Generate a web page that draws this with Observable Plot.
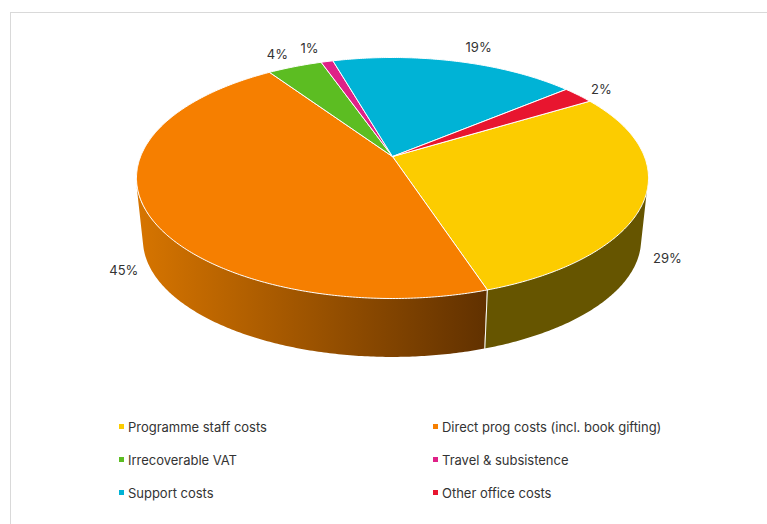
<!DOCTYPE html>
<html>
<head>
<meta charset="utf-8">
<script src="https://cdn.jsdelivr.net/npm/d3@7"></script>
<script src="https://cdn.jsdelivr.net/npm/@observablehq/plot@0.6"></script>
<style>
  html, body { margin: 0; padding: 0; background: #fff; }
  #page { position: relative; width: 767px; height: 524px; overflow: hidden; font-family: Inter, sans-serif; color: #333; }
  #page::before { content: ""; position: absolute; left: 10px; top: 12px; right: -2px; bottom: -2px; border: 1px solid #d9d9d9; }
  #chart { position: relative; }
  #chart svg { display: block; }
  #legend { position: relative; display: grid; grid-template-columns: 314px auto; grid-auto-rows: 33px; padding-left: 119px; font-size: 13px; letter-spacing: -0.02px; }
  .item { display: flex; align-items: center; }
  .swatch { width: 5px; height: 5px; margin-right: 4px; flex: none; }
</style>
</head>
<body>
<div id="page"><div id="chart"></div><div id="legend"></div></div>
<script>
const categories = ["Programme staff costs", "Direct prog costs (incl. book gifting)", "Irrecoverable VAT", "Travel & subsistence", "Support costs", "Other office costs"];
const values = [28.6, 45.6, 4.1, 0.9, 18.4, 2.4];
const percentLabels = ["29%", "45%", "4%", "1%", "19%", "2%"];
const colors = ["#fccc00", "#f67f00", "#5cbd22", "#df2187", "#00b3d6", "#e8152f"];
const wallFills = ["#665500", "url(#orangeWall)", "#2e5f11", "#701143", "#005a6b", "#740b18"];

const startAngle = 58.8 * Math.PI / 180;
const tilt = 0.178;          // perspective of the tilted disc
const depthScale = 0.973;    // lower rim is a little smaller
const depthShift = 0.516;    // lower rim offset, in y-scale units

// Projects an angle on the pie (clockwise from the top) onto the upper rim
function rim(theta, r = 1) {
  const u = r * Math.sin(theta), v = -r * Math.cos(theta);
  const w = 1 - tilt * v;
  return {
    x: (u / w) * Math.sqrt(1 - tilt * tilt),
    y: ((1 - tilt * tilt) * v) / w - tilt,
    u, v
  };
}
const lower = (p) => ({x: p.x * depthScale, y: p.y * depthScale + depthShift});

// The wall's silhouette: where the common tangent of the two rims touches them
const tangentY = (1 - depthScale) / depthShift;
const tangentT = (tangentY + tilt) / (1 - tilt * tilt);
const tangentV = tangentT / (1 + tilt * tangentT);
const wallStart = Math.acos(-tangentV);
const wallEnd = 2 * Math.PI - wallStart;

const total = d3.sum(values);
let acc = 0;
const slices = categories.map((name, i) => {
  const a0 = startAngle + (acc / total) * 2 * Math.PI;
  acc += values[i];
  const a1 = startAngle + (acc / total) * 2 * Math.PI;
  return {name, i, a0, a1, mid: (a0 + a1) / 2, label: percentLabels[i]};
});

function arcPoints(a0, a1) {
  const n = Math.max(4, Math.ceil((a1 - a0) / 0.01));
  return d3.range(n + 1).map((k) => rim(a0 + ((a1 - a0) * k) / n));
}

const apex = rim(0, 0);
const faces = slices.flatMap((s) =>
  [apex, ...arcPoints(s.a0, s.a1), apex].map((p) => ({name: s.name, x: p.x, y: p.y}))
);

const wallMarks = slices
  .filter((s) => Math.min(s.a1, wallEnd) > Math.max(s.a0, wallStart))
  .map((s) =>
    Plot.area(
      arcPoints(Math.max(s.a0, wallStart), Math.min(s.a1, wallEnd)).map((p) => {
        const q = lower(p);
        return {x1: p.x, y1: p.y, x2: q.x, y2: q.y};
      }),
      {x1: "x1", y1: "y1", x2: "x2", y2: "y2", fill: wallFills[s.i], stroke: "none"}
    )
  );

// Dividers on the wall, only where a slice boundary faces the viewer
const dividers = slices
  .map((s) => rim(s.a0))
  .filter((p) => p.v > tangentV)
  .map((p) => {
    const q = lower(p);
    return {x1: p.x, y1: p.y, x2: q.x, y2: q.y};
  });

// Labels sit outside the rim, on the lower rim for the front, the upper rim for the back
const labels = slices.map((s) => {
  const p = rim(s.mid);
  const front = p.v > 0;
  const a = front ? lower(p) : p;
  const push = front ? 0.117 : (p.u < 0 ? 0.068 : 0.09);
  return {
    label: s.label,
    x: a.x + Math.sign(p.u) * push,
    y: a.y + (front ? -0.02 : p.v * Math.abs(p.v) * 0.12)
  };
});

const defs = () => {
  const svg = d3.create("svg:defs");
  const g = svg.append("linearGradient").attr("id", "orangeWall").attr("x1", 0).attr("x2", 1).attr("y1", 0).attr("y2", 0);
  g.append("stop").attr("offset", "0%").attr("stop-color", "#d77500");
  g.append("stop").attr("offset", "100%").attr("stop-color", "#613100");
  return svg.node();
};

const chart = Plot.plot({
  width: 767,
  height: 410,
  margin: 0,
  style: {background: "transparent", fontFamily: "Inter, sans-serif", fontSize: "13px", overflow: "visible"},
  x: {domain: [-1, 1], range: [136, 648], axis: null},
  y: {domain: [-1, 1], range: [57, 298], axis: null},
  color: {domain: categories, range: colors},
  marks: [
    defs,
    ...wallMarks,
    Plot.link(dividers, {x1: "x1", y1: "y1", x2: "x2", y2: "y2", stroke: "white", strokeWidth: 1}),
    Plot.line(faces, {x: "x", y: "y", z: "name", fill: "name", stroke: "white", strokeWidth: 1, strokeLinejoin: "round"}),
    Plot.text(labels, {x: "x", y: "y", text: "label", fill: "#333", fontSize: 13, textAnchor: "middle"})
  ]
});
document.getElementById("chart").append(chart);

const legend = d3.select("#legend");
categories.forEach((name, i) => {
  const item = legend.append("div").attr("class", "item");
  item.append("span").attr("class", "swatch").style("background", colors[i]);
  item.append("span").text(name);
});
</script>
</body>
</html>
